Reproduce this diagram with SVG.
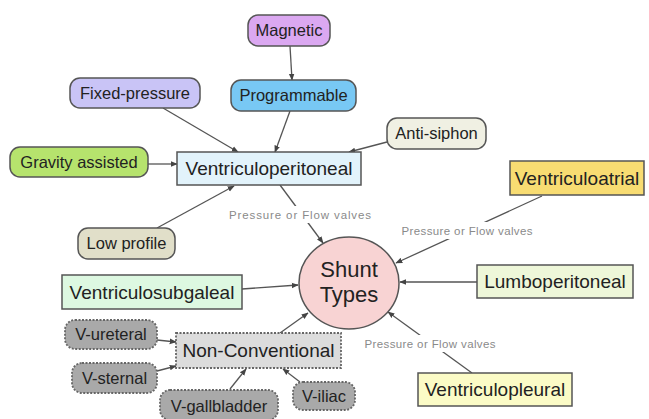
<svg xmlns="http://www.w3.org/2000/svg" width="649" height="419" viewBox="0 0 649 419">
<style>
.n{stroke:#555;stroke-width:1.5}
.t{font-family:"Liberation Sans",Arial,sans-serif;fill:#222;text-anchor:middle}
.r{font-size:16.5px}
.b{font-size:19px}
.d{stroke-dasharray:2 1.5;stroke:#666;stroke-width:1.8}
.c line{stroke:#555;stroke-width:1.3;marker-end:url(#ah)}
.bg{fill:#fff}
.lbl{font-family:"Liberation Sans",Arial,sans-serif;font-size:11.5px;fill:#8a8a8a;text-anchor:middle}
</style>
<defs>
<marker id="ah" viewBox="0 0 10 10" refX="9" refY="5" markerWidth="7" markerHeight="7" orient="auto" markerUnits="userSpaceOnUse">
<path d="M0,1 L10,5 L0,9 z" fill="#444"/>
</marker>
</defs>
<rect width="649" height="419" fill="#fff"/>
<g class="c" id="connectors">
<line x1="290" y1="46" x2="292" y2="80"/>
<line x1="163" y1="108" x2="238" y2="152"/>
<line x1="290" y1="111" x2="275" y2="152"/>
<line x1="148" y1="164" x2="177" y2="164"/>
<line x1="387" y1="142" x2="349" y2="152"/>
<line x1="157" y1="228" x2="234" y2="186"/>
<line x1="280" y1="185" x2="323" y2="243"/>
<line x1="542" y1="196" x2="396" y2="263"/>
<line x1="477" y1="282" x2="400" y2="282"/>
<line x1="242" y1="289" x2="298" y2="285"/>
<line x1="472" y1="373" x2="388" y2="312"/>
<line x1="280" y1="333" x2="308" y2="313"/>
<line x1="157" y1="340" x2="176" y2="342"/>
<line x1="157" y1="371" x2="176" y2="366"/>
<line x1="230" y1="389" x2="246" y2="369"/>
<line x1="300" y1="382" x2="283" y2="369"/>
<rect class="bg" x="228" y="206" width="144" height="17"/>
<rect class="bg" x="401" y="222" width="133" height="17"/>
<rect class="bg" x="363" y="335" width="134" height="17"/>
<text class="lbl" x="300" y="219" textLength="142">Pressure or Flow valves</text>
<text class="lbl" x="467" y="235" textLength="131">Pressure or Flow valves</text>
<text class="lbl" x="430" y="348" textLength="131">Pressure or Flow valves</text>
</g>
<g id="magnetic"><rect class="n" x="248" y="15" width="82" height="31" rx="10" fill="#dba8f1"/><text class="t r" x="289" y="36">Magnetic</text></g>
<g id="fixed-pressure"><rect class="n" x="70" y="78" width="130" height="30" rx="10" fill="#c9c4f6"/><text class="t r" x="135" y="99">Fixed-pressure</text></g>
<g id="programmable"><rect class="n" x="231" y="80" width="125" height="31" rx="10" fill="#78c8f4"/><text class="t r" x="293.5" y="101">Programmable</text></g>
<g id="gravity"><rect class="n" x="10" y="147" width="138" height="30" rx="10" fill="#b6e36d"/><text class="t r" x="79" y="168">Gravity assisted</text></g>
<g id="anti-siphon"><rect class="n" x="387" y="118" width="99" height="31" rx="10" fill="#f0f0e3"/><text class="t r" x="436.5" y="139">Anti-siphon</text></g>
<g id="vp"><rect class="n" x="177" y="152" width="184" height="33" fill="#e2f3fb"/><text class="t b" x="269" y="175">Ventriculoperitoneal</text></g>
<g id="va"><rect class="n" x="510" y="161" width="134" height="34" fill="#f8dc72"/><text class="t b" x="577" y="185">Ventriculoatrial</text></g>
<g id="low-profile"><rect class="n" x="78" y="228" width="97" height="31" rx="10" fill="#e1dfc9"/><text class="t r" x="126.5" y="249">Low profile</text></g>
<g id="shunt"><ellipse class="n" cx="349" cy="283" rx="50" ry="46" fill="#f8d3d3"/><text class="t" style="font-size:22px" x="349" y="277">Shunt</text><text class="t" style="font-size:22px" x="349" y="302">Types</text></g>
<g id="lp"><rect class="n" x="477" y="265" width="156" height="33" fill="#eef7d9"/><text class="t b" x="555" y="288">Lumboperitoneal</text></g>
<g id="vsg"><rect class="n" x="62" y="275" width="180" height="34" fill="#ddf8e1"/><text class="t b" x="152" y="299">Ventriculosubgaleal</text></g>
<g id="non-conventional"><rect class="d" x="176" y="333" width="165" height="35" fill="#dcdcdc"/><text class="t b" x="258.5" y="357">Non-Conventional</text></g>
<g id="v-ureteral"><rect class="d" x="65" y="320" width="92" height="29" rx="10" fill="#a9a9a9"/><text class="t r" x="111" y="340">V-ureteral</text></g>
<g id="v-sternal"><rect class="d" x="72" y="363" width="85" height="30" rx="10" fill="#a9a9a9"/><text class="t r" x="114.5" y="384">V-sternal</text></g>
<g id="v-gallbladder"><rect class="d" x="160" y="390" width="118" height="30" rx="10" fill="#a9a9a9"/><text class="t r" x="219" y="412">V-gallbladder</text></g>
<g id="v-iliac"><rect class="d" x="293" y="382" width="62" height="28" rx="10" fill="#a9a9a9"/><text class="t r" x="324" y="402">V-iliac</text></g>
<g id="vpl"><rect class="n" x="418" y="373" width="154" height="33" fill="#fbfbc6"/><text class="t b" x="495" y="396">Ventriculopleural</text></g>
</svg>
